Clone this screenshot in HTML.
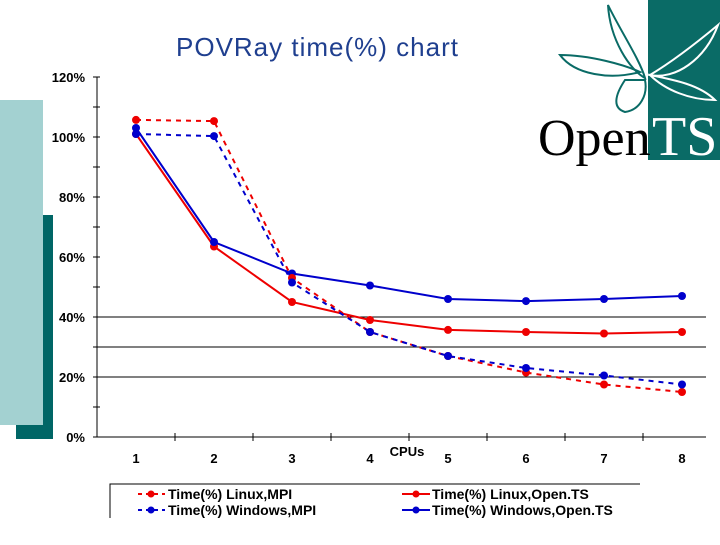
<!DOCTYPE html>
<html><head><meta charset="utf-8"><style>
body{margin:0;width:720px;height:540px;background:#fff;overflow:hidden;font-family:"Liberation Sans",sans-serif}
</style></head><body>
<svg width="720" height="540" xmlns="http://www.w3.org/2000/svg">
<rect x="16" y="215" width="37" height="224" fill="#006666"/>
<rect x="0" y="100" width="43" height="325" fill="#a3d1d1"/>
<text x="176" y="56" font-size="26" textLength="282" fill="#1f3f8f" font-family="Liberation Sans, sans-serif">POVRay time(%) chart</text>
<g>
<rect x="648" y="0" width="72" height="160" fill="#0a6b66"/>
<g fill="none" stroke="#0a6b66" stroke-width="2">
<path d="M608 5 C620 30 640 60 645 78 C630 70 610 40 608 5Z"/>
<path d="M560 55 C590 55 625 65 640 72 C610 80 575 75 560 55Z"/>
<path d="M625 80 C615 95 612 108 625 112 C640 110 648 95 645 80Z"/>
</g>
<g fill="none" stroke="#fff" stroke-width="2">
<path d="M718 25 C700 40 675 60 650 75 C675 80 705 60 718 25Z"/>
<path d="M650 75 C675 80 700 85 715 100 C690 100 665 90 650 75Z"/>
</g>
<text x="538" y="155" font-size="52" font-family="Liberation Serif, serif" fill="#000">Open</text>
<text x="652" y="155" font-size="56" font-family="Liberation Serif, serif" fill="#fff">TS</text>
</g>
<g id="chart"></g>
<g>
<path d="M110 518 V484 H640" fill="none" stroke="#000" stroke-width="1"/>
<line x1="138" y1="494" x2="165" y2="494" stroke="#e00" stroke-width="2" stroke-dasharray="4,4"/><circle cx="151" cy="494" r="3.5" fill="#e00"/>
<text x="168" y="499" font-size="14" font-weight="bold">Time(%) Linux,MPI</text>
<line x1="138" y1="510" x2="165" y2="510" stroke="#00c" stroke-width="2" stroke-dasharray="4,4"/><circle cx="151" cy="510" r="3.5" fill="#00c"/>
<text x="168" y="515" font-size="14" font-weight="bold">Time(%) Windows,MPI</text>
<line x1="402" y1="494" x2="430" y2="494" stroke="#e00" stroke-width="2"/><circle cx="416" cy="494" r="3.5" fill="#e00"/>
<text x="432" y="499" font-size="14" font-weight="bold">Time(%) Linux,Open.TS</text>
<line x1="402" y1="510" x2="430" y2="510" stroke="#00c" stroke-width="2"/><circle cx="416" cy="510" r="3.5" fill="#00c"/>
<text x="432" y="515" font-size="14" font-weight="bold">Time(%) Windows,Open.TS</text>
</g>
</svg>
<script>
const categories=["1","2","3","4","5","6","7","8"];
const yTicks=[0,20,40,60,80,100,120];
const linuxMPI=[105.7,105.3,53,35,27,21.5,17.5,15];
const windowsMPI=[101,100.3,51.5,35,27,23,20.5,17.5];
const linuxOpenTS=[101,63.5,45,39,35.7,35,34.5,35];
const windowsOpenTS=[103,65,54.5,50.5,46,45.3,46,47];
const NS="http://www.w3.org/2000/svg";
const g=document.getElementById('chart');
const x0=97,y0=437,step=78;
const yS=v=>y0-v*3;
const xS=i=>x0+step*(i+0.5);
function mk(t,a){const e=document.createElementNS(NS,t);for(const k in a)e.setAttribute(k,a[k]);g.appendChild(e);return e;}
[40,30,20].forEach(v=>{const l=mk('line',{x1:x0,x2:706,y1:yS(v),y2:yS(v),stroke:'#000','stroke-width':1});

});
const ax=mk('line',{x1:x0,x2:x0,y1:yS(120),y2:y0,stroke:'#000','stroke-width':1});


const xa=mk('line',{x1:x0,x2:706,y1:y0,y2:y0,stroke:'#000','stroke-width':1});


for(let v=0;v<=120;v+=10){mk('line',{x1:x0-4,x2:x0+3,y1:yS(v),y2:yS(v),stroke:'#000'});}
yTicks.forEach(v=>{const t=mk('text',{x:x0-12,y:yS(v)+5,'text-anchor':'end','font-size':13,'font-weight':'bold'});t.textContent=v+'%';

});
categories.forEach((c,i)=>{mk('line',{x1:x0+step*(i+1),x2:x0+step*(i+1),y1:y0-4,y2:y0+4,stroke:'#000'});
const t=mk('text',{x:xS(i),y:y0+26,'text-anchor':'middle','font-size':13,'font-weight':'bold'});t.textContent=c;

});
const xt=mk('text',{x:407,y:456,'text-anchor':'middle','font-size':13,'font-weight':'bold'});xt.textContent='CPUs';


function series(d,col,dash,name){
const p=mk('polyline',{points:d.map((v,i)=>xS(i)+','+yS(v)).join(' '),fill:'none',stroke:col,'stroke-width':2,'stroke-dasharray':dash});


d.forEach((v,i)=>{const c=mk('circle',{cx:xS(i),cy:yS(v),r:4,fill:col});

});}
series(linuxOpenTS,'#e00','none','linux-opents');
series(windowsOpenTS,'#00c','none','windows-opents');
series(linuxMPI,'#e00','5,5','linux-mpi');
series(windowsMPI,'#00c','5,5','windows-mpi');
</script>
</body></html>
